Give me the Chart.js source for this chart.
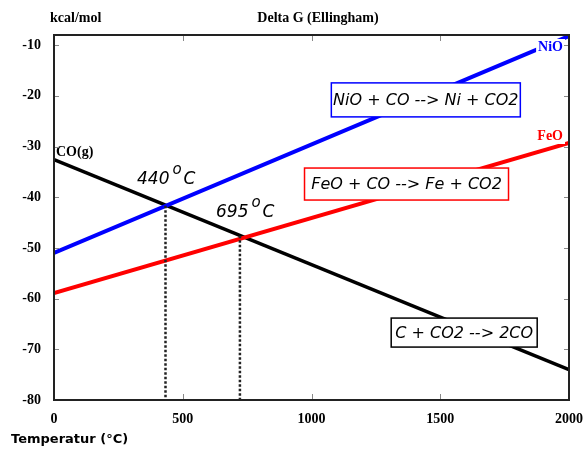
<!DOCTYPE html>
<html>
<head>
<meta charset="utf-8">
<script src="https://cdn.jsdelivr.net/npm/chart.js@4.4.1/dist/chart.umd.min.js"></script>
<style>
  html, body { margin: 0; padding: 0; background: #fff; }
  #wrap { width: 585px; height: 449px; }
</style>
</head>
<body>
<div id="wrap"><canvas id="ellingham" width="585" height="449"></canvas></div>
<script>
// temperatures (deg C) where each line starts and ends
const temps = [0, 2000];
// Delta G in kcal/mol
const nioG = [-51.0, -8.2];
const feoG = [-58.9, -29.3];
const coG = [-32.6, -74.0];
// crossing points marked with dotted drop lines
const crossTemps = [433, 722];
const crossG = [-41.7, -47.6];
const crossLabels = ['440', '695'];

const yMin = -80, yMax = -8;

const toPoints = (xs, ys) => xs.map((x, i) => ({ x: x, y: ys[i] }));

const serifBold = 'bold 14px "Liberation Serif", "Times New Roman", serif';
const sansItalic = 'italic 16px "DejaVu Sans", Verdana, sans-serif';

// reactions drawn in boxes, placed by their centre in data units
const boxes = [
  { text: 'NiO + CO --> Ni + CO2', color: '#0000ff', x: 1444, y: -20.8, w: 189, h: 34 },
  { text: 'FeO + CO --> Fe + CO2', color: '#ff0000', x: 1369, y: -37.4, w: 204, h: 32 },
  { text: 'C + CO2 --> 2CO', color: '#000000', x: 1593, y: -66.7, w: 146, h: 29 },
];

const extras = {
  id: 'extras',
  afterDatasetsDraw(chart) {
    const ctx = chart.ctx;
    const xs = chart.scales.x, ys = chart.scales.y;
    const a = chart.chartArea;
    ctx.save();

    // series names, on a white patch so the line end hides behind them
    ctx.font = serifBold;
    ctx.textBaseline = 'middle';
    ctx.textAlign = 'right';
    const tag = (s, color, x, y) => {
      const w = ctx.measureText(s).width;
      ctx.fillStyle = '#fff';
      ctx.fillRect(x - w - 2, y - 8, w + 4, 16);
      ctx.fillStyle = color;
      ctx.fillText(s, x, y);
    };
    tag('NiO', '#0000ff', a.right - 6, 47);
    tag('FeO', '#ff0000', a.right - 6, 136);
    ctx.textAlign = 'left';
    ctx.fillStyle = '#000';
    ctx.fillText('CO(g)', a.left + 2, 152);

    // inward tick marks on all four sides
    ctx.strokeStyle = '#888';
    ctx.lineWidth = 1;
    ys.ticks.forEach(t => {
      const py = Math.round(ys.getPixelForValue(t.value)) + 0.5;
      ctx.beginPath();
      ctx.moveTo(a.left, py); ctx.lineTo(a.left + 5, py);
      ctx.moveTo(a.right, py); ctx.lineTo(a.right - 5, py);
      ctx.stroke();
    });
    xs.ticks.forEach(t => {
      const px = Math.round(xs.getPixelForValue(t.value)) + 0.5;
      ctx.beginPath();
      ctx.moveTo(px, a.bottom); ctx.lineTo(px, a.bottom - 6);
      ctx.moveTo(px, a.top); ctx.lineTo(px, a.top + 6);
      ctx.stroke();
    });

    // frame
    ctx.strokeStyle = '#222';
    ctx.lineWidth = 2;
    ctx.strokeRect(a.left, a.top, a.right - a.left, a.bottom - a.top);

    // boxed reactions
    ctx.font = sansItalic;
    ctx.textAlign = 'center';
    ctx.textBaseline = 'middle';
    boxes.forEach(b => {
      const cx = xs.getPixelForValue(b.x), cy = ys.getPixelForValue(b.y);
      ctx.fillStyle = '#fff';
      ctx.fillRect(cx - b.w / 2, cy - b.h / 2, b.w, b.h);
      ctx.strokeStyle = b.color;
      ctx.lineWidth = 1.5;
      ctx.strokeRect(cx - b.w / 2, cy - b.h / 2, b.w, b.h);
      ctx.fillStyle = '#000';
      ctx.fillText(b.text, cx, cy + 1);
    });

    // crossing temperature labels
    const labelPos = [{ x: 137, y: 184 }, { x: 216, y: 217 }];
    crossLabels.forEach((s, i) => {
      const p = labelPos[i];
      ctx.textAlign = 'left';
      ctx.textBaseline = 'alphabetic';
      ctx.fillStyle = '#000';
      ctx.font = 'italic 17px "DejaVu Sans", Verdana, sans-serif';
      ctx.fillText(s, p.x, p.y);
      const w = ctx.measureText(s).width;
      ctx.font = 'italic 15px "DejaVu Sans", Verdana, sans-serif';
      ctx.fillText('o', p.x + w + 3, p.y - 10);
      ctx.font = 'italic 17px "DejaVu Sans", Verdana, sans-serif';
      ctx.fillText('C', p.x + w + 14, p.y);
    });

    // titles
    ctx.font = serifBold;
    ctx.textBaseline = 'middle';
    ctx.textAlign = 'left';
    ctx.fillStyle = '#000';
    ctx.fillText('kcal/mol', 50, 18);
    ctx.textAlign = 'center';
    ctx.fillText('Delta G (Ellingham)', 318, 18);
    ctx.textAlign = 'left';
    ctx.font = 'bold 13px "DejaVu Sans", Verdana, sans-serif';
    ctx.fillText('Temperatur (\u00B0C)', 11, 440);

    ctx.restore();
  }
};

const lineSet = (label, ys, color, width) => ({
  label: label,
  data: toPoints(temps, ys),
  showLine: true,
  borderColor: color,
  backgroundColor: color,
  borderWidth: width,
  pointRadius: 0,
  borderCapStyle: 'butt',
});

const dropSets = crossTemps.map((t, i) => ({
  label: 'drop' + i,
  data: [{ x: t, y: crossG[i] }, { x: t, y: yMin }],
  showLine: true,
  borderColor: '#222',
  borderWidth: 2.5,
  borderDash: [2.5, 2],
  pointRadius: 0,
  clip: false,
}));

new Chart(document.getElementById('ellingham'), {
  type: 'scatter',
  data: {
    datasets: [
      ...dropSets,
      lineSet('NiO', nioG, '#0000ff', 4),
      lineSet('FeO', feoG, '#ff0000', 4),
      lineSet('CO(g)', coG, '#000000', 3.5),
    ],
  },
  plugins: [extras],
  options: {
    responsive: false,
    animation: false,
    events: [],
    layout: { padding: { top: 35, right: 16, left: 0, bottom: 0 } },
    plugins: { legend: { display: false }, tooltip: { enabled: false } },
    scales: {
      x: {
        type: 'linear',
        min: 0,
        max: 2000,
        grid: { display: false, drawTicks: false },
        border: { display: false },
        ticks: {
          stepSize: 500,
          padding: 11,
          color: '#000',
          font: { family: '"Liberation Serif", "Times New Roman", serif', size: 14, weight: 'bold' },
          maxRotation: 0,
          callback: v => String(v),
        },
        afterFit: s => { s.height = 49; s.paddingLeft = 0; s.paddingRight = 0; },
      },
      y: {
        type: 'linear',
        min: yMin,
        max: yMax,
        grid: { display: false, drawTicks: false },
        border: { display: false },
        ticks: {
          stepSize: 10,
          includeBounds: false,
          padding: 13,
          color: '#000',
          font: { family: '"Liberation Serif", "Times New Roman", serif', size: 14, weight: 'bold' },
        },
        afterFit: s => { s.width = 54; s.paddingTop = 0; s.paddingBottom = 0; },
      },
    },
  },
});
</script>
</body>
</html>
